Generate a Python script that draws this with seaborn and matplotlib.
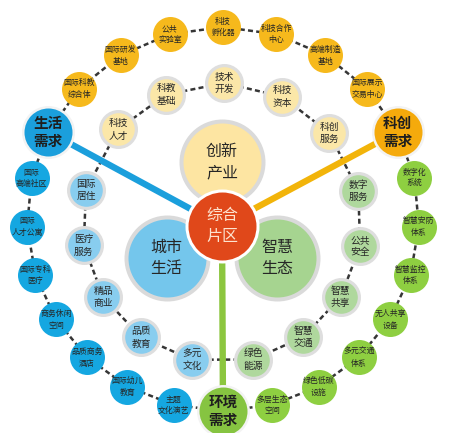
import numpy as np
import pandas as pd
import matplotlib
matplotlib.use("Agg")
import matplotlib.pyplot as plt
import seaborn as sns

# ---------------- data ----------------
center_label = "综合\n片区"
hub_labels = ["创新\n产业", "城市\n生活", "智慧\n生态"]          # yellow, blue, green
demand_labels = ["科创\n需求", "生活\n需求", "环境\n需求"]        # yellow, blue, green

inner_yellow = ["科创\n服务", "科技\n资本", "技术\n开发", "科教\n基础", "科技\n人才"]
inner_blue = ["国际\n居住", "医疗\n服务", "精品\n商业", "品质\n教育", "多元\n文化"]
inner_green = ["绿色\n能源", "智慧\n交通", "智慧\n共享", "公共\n安全", "数字\n服务"]

outer_green = ["多层生态\n空间", "绿色低碳\n设施", "多元交通\n体系", "无人共享\n设备",
               "智慧监控\n体系", "智慧安防\n体系", "数字化\n系统"]
outer_yellow = ["国际展示\n交易中心", "高端制造\n基地", "科技合作\n中心", "科技\n孵化器",
                "公共\n实验室", "国际研发\n基地", "国际科教\n综合体"]
outer_blue = ["国际\n高端社区", "国际\n人才公寓", "国际专科\n医疗", "商务休闲\n空间",
              "品质商务\n酒店", "国际幼儿\n教育", "主题\n文化演艺"]

# ---------------- styles ----------------
COL = {
    "yellow": dict(outer="#f6b91c", inner="#fbe7a8", hub="#fde5a2", demand="#f5aa0c", spoke="#f2b40a"),
    "blue": dict(outer="#15a7e1", inner="#88cdef", hub="#74c6ec", demand="#1b9fdc", spoke="#1b9fdc"),
    "green": dict(outer="#8ecf41", inner="#afd89d", hub="#a6d490", demand="#86c441", spoke="#8cc63f"),
}
RING = "#dedede"
DASH = "#363636"
TXT = "#262626"

sns.set_theme(style="white")
plt.rcParams['font.family'] = ['Noto Sans CJK SC', 'DejaVu Sans']

W, H = 452, 433
fig = plt.figure(figsize=(W / 100, H / 100), dpi=100)
ax = fig.add_axes([0, 0, 1, 1])
ax.set_xlim(0, W)
ax.set_ylim(H, 0)
ax.axis("off")

PT = 0.72  # points per pixel at dpi 100


def pos(cx, cy, rx, ry, ang):
    a = np.deg2rad(ang)
    return cx + rx * np.cos(a), cy - ry * np.sin(a)


# ---- layout ----
CX, CY = 222, 226
OCX, OCY, ORX, ORY = 223, 219, 196, 192
ICX, ICY, IR = 222, 223, 140

# outer ring: three arcs between the demand nodes (at 270, 27, 153 deg)
arcs = [("green", demand_labels[2], outer_green, 270, 387),
        ("yellow", demand_labels[0], outer_yellow, 27, 153),
        ("blue", demand_labels[1], outer_blue, 153, 270)]
rows = []
for grp, dlab, labs, a0, a1 in arcs:
    step = (a1 - a0) / (len(labs) + 1)
    x, y = pos(OCX, OCY, ORX, ORY, a0)
    rows.append(dict(label=dlab, group=grp, kind="demand", x=x, y=y))
    for k, lab in enumerate(labs):
        x, y = pos(OCX, OCY, ORX, ORY, a0 + step * (k + 1))
        rows.append(dict(label=lab, group=grp, kind="outer", x=x, y=y))
outer_df = pd.DataFrame(rows)

rows = []
for grp, labs, mid, sp in [("yellow", inner_yellow, 89, 24.5), ("blue", inner_blue, 212, 22.8),
                           ("green", inner_green, 328, 22.6)]:
    for k, lab in enumerate(labs):
        x, y = pos(ICX, ICY, IR, IR, mid + sp * (k - 2))
        rows.append(dict(label=lab, group=grp, kind="inner", x=x, y=y))
inner_df = pd.DataFrame(rows)

rows = []
for grp, lab, ang in [("yellow", hub_labels[0], 90), ("blue", hub_labels[1], 210), ("green", hub_labels[2], 330)]:
    x, y = pos(CX, CY, 64, 64, ang)
    rows.append(dict(label=lab, group=grp, kind="hub", x=x, y=y))
hub_df = pd.DataFrame(rows)

# ---- dashed ring connectors ----
for df in (outer_df, inner_df):
    xs = list(df.x) + [df.x.iloc[0]]
    ys = list(df.y) + [df.y.iloc[0]]
    ax.plot(xs, ys, color=DASH, lw=1.8, dashes=(2.0, 1.3), zorder=1, solid_capstyle="butt")

# ---- spokes ----
for _, r in outer_df[outer_df.kind == "demand"].iterrows():
    ax.plot([CX, r.x], [CY, r.y], color=COL[r.group]["spoke"], lw=4.6, zorder=2,
            solid_capstyle="butt")


def draw(df, radius, colkey, ring_px=0.0, ring_color="none", z=3):
    d = 2 * radius - ring_px
    for grp, sub in df.groupby("group"):
        sns.scatterplot(data=sub, x="x", y="y", ax=ax, s=(PT * d) ** 2,
                        color=COL[grp][colkey], edgecolor=ring_color if ring_px else COL[grp][colkey],
                        linewidth=PT * ring_px if ring_px else 0, zorder=z, legend=False)


draw(outer_df[outer_df.kind == "outer"], 17.5, "outer", z=3)
draw(outer_df[outer_df.kind == "demand"], 26.5, "demand", ring_px=2.5, ring_color="#f3f3f3", z=3)
draw(inner_df, 19.5, "inner", ring_px=3.2, ring_color=RING, z=3)
draw(hub_df, 43, "hub", ring_px=4.0, ring_color="#dadada", z=4)

# center
sns.scatterplot(x=[CX], y=[CY], ax=ax, s=(PT * (2 * 37 - 3)) ** 2, color="#e0481a",
                edgecolor="white", linewidth=PT * 3, zorder=5, legend=False)

# ---- texts ----
for _, r in outer_df.iterrows():
    if r.kind == "demand":
        ax.text(r.x, r.y, r.label, ha="center", va="center", fontsize=10.5, fontweight="bold",
                color="#1e1e1e", linespacing=1.15, zorder=10)
    else:
        ax.text(r.x, r.y, r.label, ha="center", va="center", fontsize=5.7,
                color=TXT, linespacing=1.35, zorder=10)
for _, r in inner_df.iterrows():
    ax.text(r.x, r.y, r.label, ha="center", va="center", fontsize=7.0,
            color=TXT, linespacing=1.3, zorder=10)
for _, r in hub_df.iterrows():
    ax.text(r.x, r.y, r.label, ha="center", va="center", fontsize=11.5,
            color="#262626", linespacing=1.3, zorder=10)
ax.text(CX, CY, center_label, ha="center", va="center", fontsize=11.5,
        color="#fde3cf", linespacing=1.3, zorder=10)

fig.savefig("out.png", dpi=100, facecolor="white")
